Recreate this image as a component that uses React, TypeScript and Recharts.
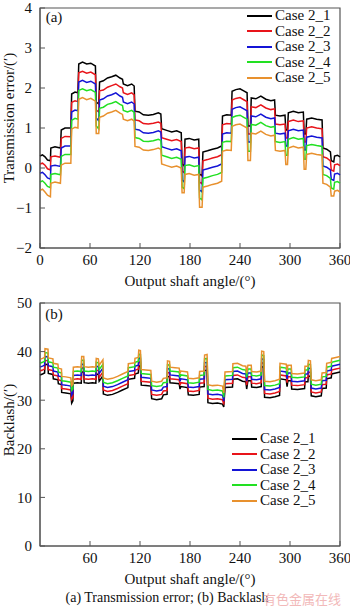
import { LineChart, Line, XAxis, YAxis, ReferenceArea } from "recharts";

// (a) transmission error, deg vs arcmin
const teAngle = [
  0, 3, 6, 9, 12.5, 13, 18, 24.5, 25.5, 30, 37, 38, 42, 45.5, 46.5, 51, 56, 61, 66.5, 67.5,
  70.5, 71.5, 76, 81, 86, 91, 96, 99, 100, 105, 110, 113, 114, 119, 124, 130, 136, 142, 145, 146,
  152, 158, 164, 169.5, 170.5, 173, 174, 179, 185, 190.5, 191.5, 194.5, 195.5, 201, 207, 213, 218, 219, 224, 229.5,
  230.5, 235, 240, 245, 248.5, 249.5, 252.5, 253.5, 259, 265, 271, 277, 281.5, 282.5, 288, 294, 295, 297, 298, 304,
  310, 316, 317, 319, 320, 326, 332, 338.5, 339.5, 344, 348.5, 349.5, 352.5, 353.5, 357, 360,
];
const teCase1 = [
  0.3, 0.33, 0.28, 0.2, 0.18, 0.5, 0.53, 0.5, 0.95, 1.0, 1.0, 1.85, 1.9, 1.88, 2.6, 2.65, 2.6, 2.62, 2.55, 1.65,
  1.6, 2.15, 2.18, 2.25, 2.28, 2.32, 2.25, 2.22, 2.1, 2.06, 2.1, 2.05, 1.42, 1.4, 1.33, 1.32, 1.34, 1.38, 1.35, 0.98,
  0.94, 0.9, 0.93, 0.88, 0.1, 0.05, 0.72, 0.74, 0.7, 0.72, -0.15, -0.2, 0.4, 0.43, 0.47, 0.5, 0.55, 1.3, 1.33, 1.32,
  1.92, 1.96, 1.98, 1.92, 1.88, 1.05, 1.05, 1.75, 1.73, 1.8, 1.72, 1.68, 1.7, 1.32, 1.3, 1.32, 0.95, 0.95, 1.38, 1.42,
  1.38, 1.4, 0.85, 0.85, 1.22, 1.25, 1.22, 1.2, 0.5, 0.47, 0.4, 0.18, 0.15, 0.3, 0.32, 0.28,
];
const teCase2 = [
  0.1, 0.12, 0.07, -0.02, -0.05, 0.28, 0.3, 0.27, 0.74, 0.79, 0.78, 1.64, 1.68, 1.66, 2.38, 2.42, 2.37, 2.4, 2.33, 1.45,
  1.4, 1.93, 1.95, 2.02, 2.06, 2.1, 2.03, 2.0, 1.88, 1.84, 1.88, 1.83, 1.2, 1.18, 1.11, 1.1, 1.12, 1.15, 1.12, 0.76,
  0.72, 0.68, 0.71, 0.66, -0.08, -0.12, 0.5, 0.52, 0.48, 0.5, -0.35, -0.4, 0.18, 0.21, 0.25, 0.28, 0.33, 1.08, 1.11, 1.1,
  1.7, 1.74, 1.76, 1.7, 1.66, 0.85, 0.85, 1.53, 1.51, 1.58, 1.5, 1.46, 1.48, 1.1, 1.08, 1.1, 0.75, 0.75, 1.16, 1.2,
  1.16, 1.18, 0.65, 0.65, 1.0, 1.03, 1.0, 0.98, 0.28, 0.25, 0.18, -0.05, -0.08, 0.08, 0.1, 0.06,
];
const teCase3 = [
  -0.13, -0.11, -0.17, -0.25, -0.28, 0.05, 0.07, 0.04, 0.5, 0.55, 0.55, 1.4, 1.45, 1.43, 2.15, 2.19, 2.14, 2.17, 2.1, 1.25,
  1.18, 1.7, 1.73, 1.8, 1.83, 1.88, 1.8, 1.77, 1.65, 1.61, 1.65, 1.6, 0.97, 0.95, 0.88, 0.87, 0.89, 0.93, 0.9, 0.53,
  0.49, 0.45, 0.48, 0.43, -0.3, -0.35, 0.27, 0.29, 0.25, 0.27, -0.55, -0.6, -0.05, -0.02, 0.02, 0.05, 0.1, 0.85, 0.88, 0.87,
  1.47, 1.51, 1.53, 1.47, 1.43, 0.65, 0.65, 1.3, 1.28, 1.35, 1.27, 1.23, 1.25, 0.87, 0.85, 0.87, 0.55, 0.55, 0.93, 0.97,
  0.93, 0.95, 0.45, 0.45, 0.77, 0.8, 0.77, 0.75, 0.05, 0.02, -0.05, -0.28, -0.31, -0.15, -0.13, -0.17,
];
const teCase4 = [
  -0.35, -0.32, -0.38, -0.46, -0.49, -0.16, -0.14, -0.17, 0.29, 0.34, 0.34, 1.19, 1.24, 1.22, 1.94, 1.98, 1.93, 1.96, 1.89, 1.05,
  0.98, 1.49, 1.52, 1.59, 1.62, 1.66, 1.59, 1.56, 1.44, 1.4, 1.44, 1.39, 0.76, 0.74, 0.67, 0.66, 0.68, 0.72, 0.69, 0.32,
  0.28, 0.24, 0.27, 0.22, -0.48, -0.52, 0.06, 0.08, 0.04, 0.06, -0.75, -0.8, -0.26, -0.23, -0.19, -0.16, -0.11, 0.64, 0.67, 0.66,
  1.26, 1.3, 1.32, 1.26, 1.22, 0.42, 0.42, 1.09, 1.07, 1.14, 1.06, 1.02, 1.04, 0.66, 0.64, 0.66, 0.32, 0.32, 0.72, 0.76,
  0.72, 0.74, 0.22, 0.22, 0.56, 0.59, 0.56, 0.54, -0.16, -0.19, -0.26, -0.5, -0.53, -0.36, -0.34, -0.38,
];
const teCase5 = [
  -0.56, -0.53, -0.6, -0.68, -0.72, -0.38, -0.35, -0.38, 0.07, 0.12, 0.12, 0.97, 1.02, 1.0, 1.72, 1.76, 1.71, 1.74, 1.67, 0.86,
  0.86, 1.27, 1.3, 1.37, 1.4, 1.44, 1.37, 1.34, 1.22, 1.18, 1.22, 1.17, 0.54, 0.52, 0.45, 0.44, 0.46, 0.5, 0.47, 0.1,
  0.06, 0.02, 0.05, 0.0, -0.62, -0.62, -0.16, -0.14, -0.18, -0.16, -0.98, -0.98, -0.48, -0.45, -0.41, -0.38, -0.33, 0.42, 0.45, 0.44,
  1.04, 1.08, 1.1, 1.04, 1.0, 0.19, 0.19, 0.87, 0.85, 0.92, 0.84, 0.8, 0.82, 0.44, 0.42, 0.44, 0.09, 0.09, 0.5, 0.54,
  0.5, 0.52, -0.03, -0.03, 0.34, 0.37, 0.34, 0.32, -0.38, -0.41, -0.48, -0.7, -0.7, -0.58, -0.56, -0.6,
];

// (b) backlash
const blAngle = [
  0, 3, 5.5, 6, 9.6, 10, 15.5, 16, 21.5, 22, 25.8, 26, 31, 37, 38, 39.5, 40, 45, 49.5, 50,
  52.5, 53, 58, 63, 67, 67.5, 70, 71, 75.5, 76, 81, 87, 93, 99, 105.5, 106, 110, 113.5, 114, 118,
  118.5, 120.5, 121.5, 127, 133, 134, 140, 146, 148, 152.5, 153, 155.5, 156, 162, 167, 168, 169, 177, 178, 184,
  191, 191.5, 197, 197.5, 200.5, 201.5, 207, 213, 219, 220.5, 222, 231, 231.5, 237, 243, 247, 248, 249.5, 253.5, 254,
  260, 265.5, 266, 268.5, 269.5, 276, 282, 287.5, 288, 295.5, 296.5, 297.5, 301.5, 302, 309, 317.5, 318, 321.5, 322, 324.5,
  325.5, 331, 337.5, 338.5, 343.5, 344, 349.5, 350, 355, 360,
];
const blCase1 = [
  35.2, 35.4, 35.6, 37.4, 37.3, 35.5, 35.3, 34.4, 34.2, 33.4, 33.2, 31.6, 31.5, 31.3, 29.4, 29.9, 33.5, 33.6, 33.5, 35.8,
  35.8, 33.6, 33.5, 33.6, 33.5, 35.4, 35.3, 33.9, 35.0, 31.3, 31.0, 31.2, 31.6, 32.1, 32.6, 34.3, 34.4, 34.5, 35.4, 35.6,
  37.1, 37.0, 33.1, 33.0, 32.9, 30.3, 30.1, 30.3, 31.1, 31.2, 34.9, 34.8, 33.6, 33.5, 33.4, 32.3, 32.8, 32.6, 31.1, 31.0,
  31.2, 32.7, 32.8, 36.1, 36.2, 29.5, 29.3, 29.4, 29.2, 28.6, 32.6, 32.7, 34.3, 34.4, 33.9, 33.8, 32.3, 34.0, 34.0, 32.7,
  32.6, 32.8, 36.9, 36.8, 30.6, 30.5, 30.7, 31.0, 34.4, 34.2, 32.8, 34.0, 34.0, 32.3, 32.2, 32.4, 33.8, 33.8, 35.0, 34.9,
  30.9, 30.7, 30.9, 32.4, 32.5, 34.4, 34.6, 35.4, 35.6, 35.8,
];
const blCase2 = [
  36.0, 36.2, 36.4, 38.2, 38.1, 36.3, 36.1, 35.2, 35.0, 34.2, 34.0, 32.4, 32.3, 32.1, 30.2, 30.6, 34.3, 34.4, 34.3, 36.6,
  36.6, 34.4, 34.3, 34.4, 34.3, 36.2, 36.1, 34.7, 35.8, 32.1, 31.8, 32.0, 32.4, 32.9, 33.4, 35.1, 35.2, 35.3, 36.2, 36.4,
  37.9, 37.8, 33.9, 33.8, 33.7, 31.2, 31.0, 31.2, 31.9, 32.0, 35.7, 35.6, 34.4, 34.3, 34.2, 33.1, 33.6, 33.4, 31.9, 31.8,
  32.0, 33.5, 33.6, 36.9, 37.0, 30.4, 30.2, 30.3, 30.1, 29.1, 33.4, 33.5, 35.1, 35.2, 34.7, 34.6, 33.1, 34.8, 34.8, 33.5,
  33.4, 33.6, 37.7, 37.6, 31.4, 31.3, 31.5, 31.8, 35.2, 35.0, 33.6, 34.8, 34.8, 33.1, 33.0, 33.2, 34.6, 34.6, 35.8, 35.7,
  31.7, 31.5, 31.7, 33.2, 33.3, 35.2, 35.4, 36.2, 36.4, 36.6,
];
const blCase3 = [
  36.8, 37.0, 37.2, 39.0, 38.9, 37.1, 36.9, 36.0, 35.8, 35.0, 34.8, 33.2, 33.1, 32.9, 31.0, 31.4, 35.1, 35.2, 35.1, 37.4,
  37.4, 35.2, 35.1, 35.2, 35.1, 37.0, 36.9, 35.5, 36.6, 32.9, 32.6, 32.8, 33.2, 33.7, 34.2, 35.9, 36.0, 36.1, 37.0, 37.2,
  38.7, 38.6, 34.7, 34.6, 34.5, 32.1, 31.9, 32.1, 32.7, 32.8, 36.5, 36.4, 35.2, 35.1, 35.0, 33.9, 34.4, 34.2, 32.7, 32.6,
  32.8, 34.3, 34.4, 37.7, 37.8, 31.3, 31.1, 31.2, 31.0, 29.8, 34.2, 34.3, 35.9, 36.0, 35.5, 35.4, 33.9, 35.6, 35.6, 34.3,
  34.2, 34.4, 38.5, 38.4, 32.2, 32.1, 32.3, 32.6, 36.0, 35.8, 34.4, 35.6, 35.6, 33.9, 33.8, 34.0, 35.4, 35.4, 36.6, 36.5,
  32.5, 32.3, 32.5, 34.0, 34.1, 36.0, 36.2, 37.0, 37.2, 37.4,
];
const blCase4 = [
  37.6, 37.8, 38.0, 39.8, 39.7, 37.9, 37.7, 36.8, 36.6, 35.8, 35.6, 34.0, 33.9, 33.7, 32.0, 32.3, 35.9, 36.0, 35.9, 38.2,
  38.2, 36.0, 35.9, 36.0, 35.9, 37.8, 37.7, 36.3, 37.4, 33.7, 33.4, 33.6, 34.0, 34.5, 35.0, 36.7, 36.8, 36.9, 37.8, 38.0,
  39.5, 39.4, 35.5, 35.4, 35.3, 33.0, 32.8, 33.0, 33.6, 33.7, 37.3, 37.2, 36.0, 35.9, 35.8, 34.7, 35.2, 35.0, 33.6, 33.5,
  33.7, 35.1, 35.2, 38.5, 38.6, 32.2, 32.0, 32.1, 31.9, 30.6, 35.0, 35.1, 36.7, 36.8, 36.3, 36.2, 34.7, 36.4, 36.4, 35.1,
  35.0, 35.2, 39.3, 39.2, 33.0, 32.9, 33.1, 33.4, 36.8, 36.6, 35.2, 36.4, 36.4, 34.7, 34.6, 34.8, 36.2, 36.2, 37.4, 37.3,
  33.3, 33.1, 33.3, 34.8, 34.9, 36.8, 37.0, 37.8, 38.0, 38.2,
];
const blCase5 = [
  38.4, 38.6, 38.8, 40.6, 40.5, 38.7, 38.5, 37.6, 37.4, 36.6, 36.4, 34.9, 34.8, 34.6, 33.0, 33.3, 36.8, 36.9, 36.8, 39.0,
  39.0, 36.9, 36.8, 36.9, 36.8, 38.6, 38.5, 37.2, 38.3, 34.6, 34.3, 34.5, 34.9, 35.4, 35.9, 37.5, 37.6, 37.7, 38.6, 38.8,
  40.3, 40.2, 36.3, 36.2, 36.1, 33.9, 33.7, 33.9, 34.5, 34.6, 38.1, 38.0, 36.8, 36.7, 36.6, 35.5, 36.0, 35.8, 34.5, 34.4,
  34.6, 35.9, 36.0, 39.3, 39.4, 33.2, 33.0, 33.1, 32.9, 31.5, 35.8, 35.9, 37.5, 37.6, 37.1, 37.0, 35.5, 37.2, 37.2, 35.9,
  35.8, 36.0, 40.1, 40.0, 33.9, 33.8, 34.0, 34.3, 37.6, 37.4, 36.0, 37.2, 37.2, 35.5, 35.4, 35.6, 37.0, 37.0, 38.2, 38.1,
  34.2, 34.0, 34.2, 35.6, 35.7, 37.6, 37.8, 38.6, 38.8, 39.0,
];

const caseNames = ["Case 2_1", "Case 2_2", "Case 2_3", "Case 2_4", "Case 2_5"];
const caseColors = ["#000000", "#e8141a", "#1414d6", "#22e022", "#e8912e"];

const teXTicks = [0, 60, 120, 180, 240, 300, 360];
const blXTicks = [60, 120, 180, 240, 300, 360];
const teYTicks = [-2, -1, 0, 1, 2, 3, 4];
const blYTicks = [0, 10, 20, 30, 40, 50];

const FONT = '"Liberation Serif", "Times New Roman", serif';
const AXIS = "#555";

function toRows(angles: number[], series: number[][]) {
  return angles.map((a, i) => {
    const row: Record<string, number> = { angle: a };
    series.forEach((s, k) => (row["c" + k] = s[i]));
    return row;
  });
}

const teRows = toRows(teAngle, [teCase1, teCase2, teCase3, teCase4, teCase5]);
const blRows = toRows(blAngle, [blCase1, blCase2, blCase3, blCase4, blCase5]);

const fmt = (v: number) => (v < 0 ? `\u2212${-v}` : `${v}`);
const tickStyle = { fill: "#111", fontSize: 15, fontFamily: FONT };

function Panel({ rows, yDomain, yTicks, xTicks, top }: { rows: any[]; yDomain: [number, number]; yTicks: number[]; xTicks: number[]; top: number }) {
  return (
    <LineChart width={350} height={292} data={rows} margin={{ top, right: 10, bottom: 0, left: 0 }}>
      <XAxis
        dataKey="angle"
        type="number"
        domain={[0, 360]}
        ticks={xTicks}
        interval={0}
        height={44}
        tickSize={-5}
        tickMargin={11}
        stroke={AXIS}
        tick={tickStyle}
      />
      <YAxis
        type="number"
        domain={yDomain}
        ticks={yTicks}
        interval={0}
        width={40}
        tickSize={-5}
        tickMargin={13}
        stroke={AXIS}
        tick={tickStyle}
        tickFormatter={fmt}
      />
      <ReferenceArea x1={0} x2={360} y1={yDomain[0]} y2={yDomain[1]} fill="none" stroke={AXIS} strokeWidth={1.2} />
      {caseNames.map((n, k) => (
        <Line
          key={n}
          type="linear"
          dataKey={"c" + k}
          name={n}
          stroke={caseColors[k]}
          strokeWidth={1.5}
          dot={false}
          isAnimationActive={false}
        />
      ))}
    </LineChart>
  );
}

function Key({ left, top }: { left: number; top: number }) {
  return (
    <div style={{ position: "absolute", left, top }}>
      {caseNames.map((n, k) => (
        <div key={n} style={{ display: "flex", alignItems: "center", height: 15.5 }}>
          <span style={{ width: 25, height: 2, background: caseColors[k], marginRight: 3 }} />
          <span style={{ fontSize: 15, lineHeight: "15.5px", whiteSpace: "nowrap" }}>{n}</span>
        </div>
      ))}
    </div>
  );
}

function Txt({ x, y, size = 15, rotate = 0, color = "#111", font = FONT, children }: any) {
  return (
    <div
      style={{
        position: "absolute",
        left: x,
        top: y,
        transform: `translate(-50%, -50%) rotate(${rotate}deg)`,
        fontSize: size,
        lineHeight: 1,
        whiteSpace: "nowrap",
        color,
        fontFamily: font,
      }}
    >
      {children}
    </div>
  );
}

export default function App() {
  return (
    <div style={{ position: "absolute", left: 0, top: 0, width: 350, height: 608, background: "#fff", fontFamily: FONT, color: "#111" }}>
      <style>{`.recharts-surface { overflow: visible; }`}</style>
      <div style={{ position: "absolute", left: 0, top: 0 }}>
        <Panel rows={teRows} yDomain={[-2, 4]} yTicks={teYTicks} xTicks={teXTicks} top={8} />
      </div>
      <div style={{ position: "absolute", left: 0, top: 298 }}>
        <Panel rows={blRows} yDomain={[0, 50]} yTicks={blYTicks} xTicks={blXTicks} top={5} />
      </div>
      <Key left={247} top={8} />
      <Key left={232} top={431} />
      <Txt x={54} y={17}>(a)</Txt>
      <Txt x={54} y={314}>(b)</Txt>
      <Txt x={9} y={118} rotate={-90}>Transmission error/(′)</Txt>
      <Txt x={9} y={420} rotate={-90}>Backlash/(′)</Txt>
      <Txt x={190} y={281}>Output shaft angle/(°)</Txt>
      <Txt x={190} y={579}>Output shaft angle/(°)</Txt>
      <Txt x={167} y={598} size={14}>(a) Transmission error; (b) Backlash</Txt>
      <Txt x={302} y={598} size={13} color="#f2b9b9" font='"Noto Sans CJK SC", sans-serif'>有色金属在线</Txt>
    </div>
  );
}
